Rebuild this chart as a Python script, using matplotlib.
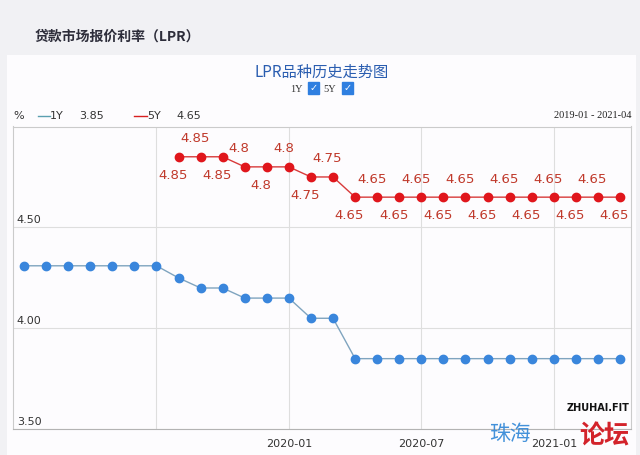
import numpy as np
import matplotlib.pyplot as plt
from matplotlib.lines import Line2D
from matplotlib.patches import Rectangle
from matplotlib.transforms import blended_transform_factory

plt.rcParams['font.family'] = ['DejaVu Sans', 'Noto Sans CJK SC']
CJK = ['Noto Sans CJK SC', 'DejaVu Sans']

# 月份 2019-01 .. 2021-04
months = ['2019-01', '2019-02', '2019-03', '2019-04', '2019-05', '2019-06', '2019-07',
          '2019-08', '2019-09', '2019-10', '2019-11', '2019-12',
          '2020-01', '2020-02', '2020-03', '2020-04', '2020-05', '2020-06',
          '2020-07', '2020-08', '2020-09', '2020-10', '2020-11', '2020-12',
          '2021-01', '2021-02', '2021-03', '2021-04']

lpr_1y = [4.31, 4.31, 4.31, 4.31, 4.31, 4.31, 4.31,
          4.25, 4.20, 4.20, 4.15, 4.15,
          4.15, 4.05, 4.05, 3.85, 3.85, 3.85,
          3.85, 3.85, 3.85, 3.85, 3.85, 3.85,
          3.85, 3.85, 3.85, 3.85]

lpr_5y = [None, None, None, None, None, None, None,
          4.85, 4.85, 4.85, 4.80, 4.80,
          4.80, 4.75, 4.75, 4.65, 4.65, 4.65,
          4.65, 4.65, 4.65, 4.65, 4.65, 4.65,
          4.65, 4.65, 4.65, 4.65]

tick_months = ['2019-07', '2020-01', '2020-07', '2021-01']
tick_labels = ['', '2020-01', '2020-07', '2021-01']
y_ticks = [3.5, 4.0, 4.5]

W, H = 640, 455


def fx(px):
    return px / W


def fy(py):
    return 1 - py / H


fig = plt.figure(figsize=(6.4, 4.55), dpi=100, facecolor='#f1f1f4')
fig.patches.append(Rectangle((fx(7), 0), fx(629), fy(55), transform=fig.transFigure,
                             fc='#fdfcfe', ec='none', zorder=-5))

ax = fig.add_axes([fx(13), fy(429.3), fx(631 - 13), (429.3 - 126.5) / H])
ax.set_facecolor('#fdfcfe')

x = np.arange(len(months))
y5 = np.array([np.nan if v is None else v for v in lpr_5y])

ax.plot(x, lpr_1y, color='#7fa4bf', lw=1, marker='o', ms=6,
        mfc='#3a86dc', mec='#3a86dc', zorder=3)
ax.plot(x, y5, color='#d83a3a', lw=1, marker='o', ms=6,
        mfc='#e0161c', mec='#e0161c', zorder=3)

# 5Y 数据标签，上下交替
for i, v in enumerate(lpr_5y):
    if v is None:
        continue
    dy = -13.5 if i % 2 == 1 else 13
    ax.annotate(f'{v:g}', (x[i], v), xytext=(-4, dy), textcoords='offset points',
                ha='center', va='center', fontsize=9.5, color='#c0392b')

ax.set_xlim(-0.5, len(months) - 0.5)
ax.set_ylim(3.5, 5.0)
ax.set_xticks([months.index(m) for m in tick_months])
ax.set_xticklabels(tick_labels)
ax.set_yticks(y_ticks)
ax.set_yticklabels([])
ax.tick_params(length=0, labelsize=8, colors='#333333', pad=7)
ax.grid(color='#dedede', lw=0.8)
for s in ax.spines.values():
    s.set_color('#cbcbcb')
ax.spines['bottom'].set_color('#b3b3b3')

trans = blended_transform_factory(ax.transAxes, ax.transData)
for v in y_ticks:
    ax.text(0.006, v + 0.012, f'{v:.2f}', transform=trans, fontsize=8,
            color='#333333', ha='left', va='bottom')

# 标题
fig.text(fx(35), fy(37), '贷款市场报价利率（LPR）', family=CJK, fontsize=10,
         weight='bold', color='#2d2d3a', va='center')
fig.text(fx(322), fy(72), 'LPR品种历史走势图', family=CJK, fontsize=11,
         color='#2a5db0', ha='center', va='center')
fig.text(fx(296), fy(89), '1Y', fontsize=7.5, color='#333333', ha='center', va='center',
         family='Liberation Serif')
fig.text(fx(330), fy(89), '5Y', fontsize=7.5, color='#333333', ha='center', va='center',
         family='Liberation Serif')
for cx in [313.5, 347.5]:
    fig.text(fx(cx), fy(88), '✓', fontsize=7, color='white', weight='bold',
             ha='center', va='center',
             bbox=dict(boxstyle='square,pad=0.12', fc='#2f7fe0', ec='#2f7fe0'))

# 图例行
fig.text(fx(13), fy(116), '%', fontsize=8, color='#333333', va='center')
fig.lines.append(Line2D([fx(38), fx(50)], [fy(116), fy(116)], transform=fig.transFigure,
                        color='#5a9fb0', lw=1))
fig.text(fx(50), fy(116), '1Y', fontsize=8, color='#333333', va='center')
fig.text(fx(79), fy(116), f'{lpr_1y[-1]:.2f}', fontsize=8, color='#333333', va='center')
fig.lines.append(Line2D([fx(134), fx(147)], [fy(116), fy(116)], transform=fig.transFigure,
                        color='#d82020', lw=1))
fig.text(fx(147), fy(116), '5Y', fontsize=8, color='#333333', va='center')
fig.text(fx(176), fy(116), f'{lpr_5y[-1]:.2f}', fontsize=8, color='#333333', va='center')
fig.text(fx(631), fy(115), f'{months[0]} - {months[-1]}', fontsize=7.5, color='#222222',
         ha='right', va='center', family='Liberation Serif')

# 水印
fig.text(fx(598), fy(408), 'ZHUHAI.FIT', fontsize=7, weight='bold', color='#111111',
         ha='center', va='center')
fig.text(fx(604), fy(436), '论坛', family=CJK, fontsize=18, weight='bold',
         color='#d3232b', ha='center', va='center')
fig.text(fx(510), fy(434), '珠海', family=CJK, fontsize=15, style='italic',
         color='#2f86d6', ha='center', va='center', alpha=0.9)

fig.savefig('out.png', dpi=100, facecolor=fig.get_facecolor())
